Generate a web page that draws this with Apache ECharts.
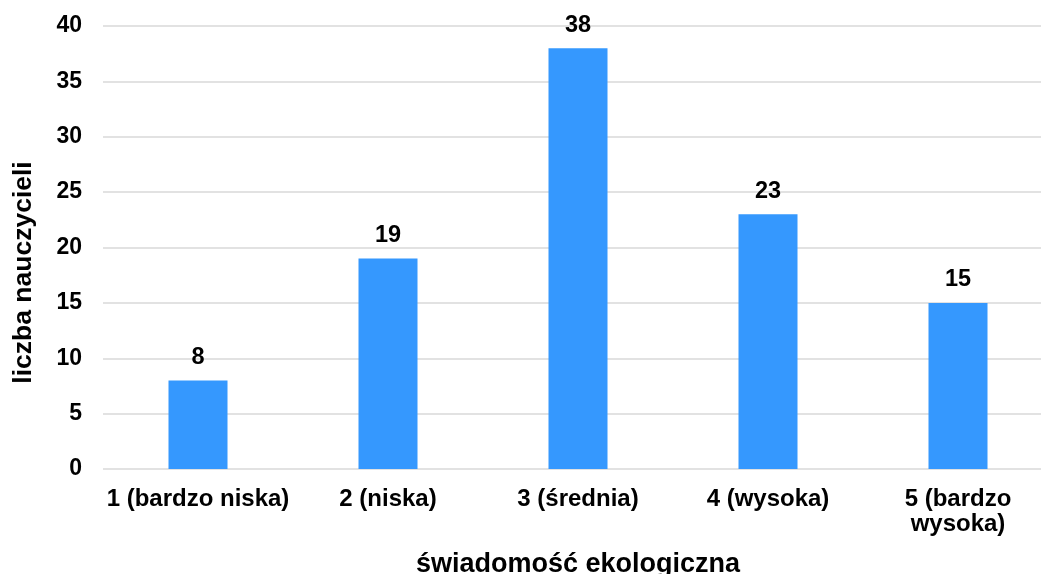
<!DOCTYPE html>
<html><head><meta charset="utf-8">
<script src="https://cdn.jsdelivr.net/npm/echarts@6/dist/echarts.min.js"></script>
<style>html,body{margin:0;padding:0;background:#fff}#c{width:1041px;height:574px}</style>
</head><body><div id="c"></div>
<script>
const categories = ["1 (bardzo niska)", "2 (niska)", "3 (średnia)", "4 (wysoka)", "5 (bardzo\nwysoka)"];
const values = [8, 19, 38, 23, 15];
const xTitle = "świadomość ekologiczna";
const yTitle = "liczba nauczycieli";

const font = "'Liberation Sans', Arial, sans-serif";
const chart = echarts.init(document.getElementById('c'), null, {renderer: 'canvas'});
chart.setOption({
  animation: false,
  grid: {left: 103, top: 26, width: 950, bottom: 105, containLabel: false, outerBoundsMode: 'none'},
  xAxis: {
    type: 'category', data: categories,
    axisTick: {show: false}, axisLine: {show: false},
    axisLabel: {fontFamily: font, fontWeight: 'bold', fontSize: 24, color: '#000', margin: 18, lineHeight: 25, interval: 0},
    name: xTitle, nameLocation: 'middle', nameGap: 82,
    nameTextStyle: {fontFamily: font, fontWeight: 'bold', fontSize: 27, color: '#000'}
  },
  yAxis: {
    type: 'value', min: 0, max: 40, interval: 5,
    axisLine: {show: false}, axisTick: {show: false},
    splitLine: {lineStyle: {color: '#d9d9d9', width: 1.5}},
    axisLabel: {fontFamily: font, fontWeight: 'bold', fontSize: 23, color: '#000', margin: 21},
    name: yTitle, nameLocation: 'middle', nameGap: 66, nameRotate: 90,
    nameTextStyle: {fontFamily: font, fontWeight: 'bold', fontSize: 26.5, color: '#000', padding: [0, 50, 0, 0]}
  },
  series: [{
    type: 'bar', data: values, barWidth: 59,
    itemStyle: {color: '#3598fe'},
    label: {show: true, position: 'top', distance: 11, fontFamily: font, fontWeight: 'bold', fontSize: 23.5, color: '#000'}
  }]
});
</script></body></html>
